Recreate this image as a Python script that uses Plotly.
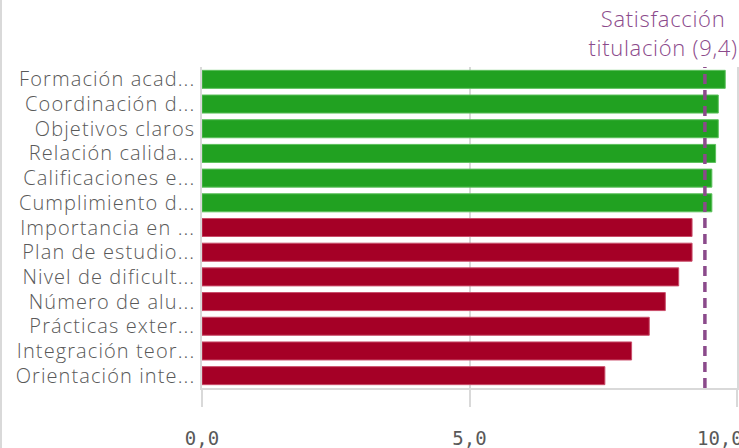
import plotly.graph_objects as go

categories = [
    "Formación acad...",
    "Coordinación d...",
    "Objetivos claros",
    "Relación calida...",
    "Calificaciones e...",
    "Cumplimiento d...",
    "Importancia en ...",
    "Plan de estudio...",
    "Nivel de dificult...",
    "Número de alu...",
    "Prácticas exter...",
    "Integración teor...",
    "Orientación inte...",
]
values = [9.78, 9.65, 9.65, 9.60, 9.53, 9.53, 9.16, 9.16, 8.91, 8.66, 8.36, 8.03, 7.53]
reference_value = 9.4
reference_label = "Satisfacción<br>titulación (9,4)"
x_ticks = [0, 5, 10]
x_tick_labels = ["0,0", "5,0", "10,0\u00a0\u00a0\u00a0"]

GREEN = "#21a121"
RED = "#a50026"
PURPLE = "#8b4a8b"
GRID = "#d9d9d9"
TEXT = "#595959"

colors = [GREEN if v >= reference_value else RED for v in values]
line_colors = ["#5cc05c" if v >= reference_value else "#c94d6a" for v in values]

W, H = 739, 448
ML, MR, MT, MB = 202, 2, 67, 60
pw = W - ML - MR
ph = H - MT - MB

fig = go.Figure()
fig.add_trace(go.Bar(
    x=values, y=categories, orientation="h",
    marker=dict(color=colors, line=dict(color=line_colors, width=1)),
    hoverinfo="x+y",
))

fig.add_shape(type="line", xref="x", yref="paper", x0=reference_value, x1=reference_value,
              y0=0, y1=1, line=dict(color=PURPLE, width=3.5, dash="10px,6px"), layer="above")
# outer left border line of the chart object
fig.add_shape(type="line", xref="paper", yref="paper",
              x0=(1 - ML) / pw, x1=(1 - ML) / pw, y0=-MB / ph, y1=1 + MT / ph,
              line=dict(color="#cccccc", width=1.5))

fig.add_annotation(xref="paper", yref="paper", x=(734 - ML) / pw, y=1 + 3 / ph,
                   xanchor="right", yanchor="bottom", align="center", showarrow=False,
                   text=reference_label,
                   font=dict(family="Open Sans", size=22, weight=300, color=PURPLE))

fig.update_layout(
    width=W, height=H,
    margin=dict(l=ML, r=MR, t=MT, b=MB, pad=0, autoexpand=False),
    paper_bgcolor="white", plot_bgcolor="white",
    bargap=0.27, showlegend=False,
    font=dict(family="Open Sans", color=TEXT),
)
fig.update_xaxes(
    range=[0, 10], tickvals=x_ticks, ticktext=x_tick_labels, automargin=False,
    ticklabeloverflow="allow",
    showgrid=True, gridcolor=GRID, gridwidth=1.5, zeroline=False,
    showline=True, linecolor=GRID, linewidth=1.5,
    ticks="outside", ticklen=17, tickcolor=GRID, tickwidth=1.5,
    ticklabelstandoff=15,
    tickfont=dict(family="DejaVu Sans Mono", size=19, color=TEXT),
)
fig.update_yaxes(
    categoryorder="array", categoryarray=categories, autorange="reversed",
    tickmode="linear", tick0=0, dtick=1,
    automargin=False,
    showline=True, linecolor=GRID, linewidth=1.5, mirror=True,
    showgrid=False, ticks="", ticklabelstandoff=1,
    tickfont=dict(family="Open Sans", size=20, weight=350, color=TEXT),
)

post = (
    "document.body.style.margin='0';document.body.style.padding='0';"
    "document.querySelectorAll('g.ytick text').forEach(function(t){t.style.letterSpacing='1.1px';});"
    "document.querySelectorAll('g.annotation text').forEach(function(t){t.style.letterSpacing='0.7px';});"
)
fig.write_html("out.html", config={"displayModeBar": False}, post_script=post)
